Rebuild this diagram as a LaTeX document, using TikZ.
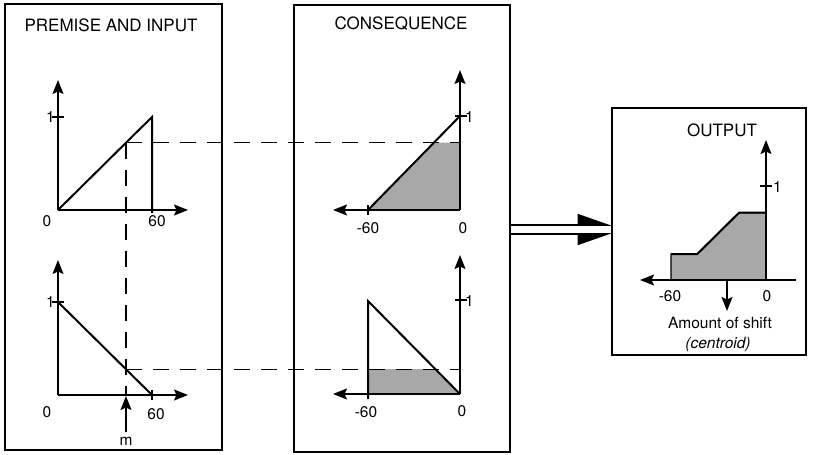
\documentclass[tikz,border=0pt]{standalone}
\usepackage{fontspec}
\setmainfont{TeX Gyre Heros}
\usetikzlibrary{arrows.meta}
\begin{document}
\begin{tikzpicture}[x=1pt,y=-1pt,
  panel/.style={draw,line width=1.5pt,inner sep=0pt,outer sep=0pt},
  axis/.style={line width=1.5pt,-{Stealth[length=14pt,width=11pt,inset=2.5pt]}},
  curve/.style={line width=2pt,line join=miter},
  guide/.style={line width=1.4pt,dash pattern=on 16pt off 11pt},
  shade/.style={fill=black!34},
  lbl/.style={font=\fontsize{15.5}{17}\selectfont,inner sep=0pt},
  ttl/.style={font=\fontsize{17}{19}\selectfont,inner sep=0pt},
  tickmark/.style={line width=1.5pt},
  dbl/.style={line width=1.6pt}]
\useasboundingbox (0,0) rectangle (831,455);

% panels
\node[panel,minimum width=217pt,minimum height=446pt] (prem) at (113.5,227) {};
\node[panel,minimum width=216pt,minimum height=447pt] (cons) at (402,228.5) {};
\node[panel,minimum width=194pt,minimum height=247pt] (out) at (709,231.5) {};

\node[ttl] (t1) at (111,25) {PREMISE AND INPUT};
\node[ttl] (t2) at (401,24) {CONSEQUENCE};
\node[ttl] (t3) at (722,130) {OUTPUT};

% ---------- premise, top ----------
\draw[axis] (58,210) -- (58,80);
\draw[axis] (58,210) -- (188,210);
\draw[curve] (58,210) -- (152,117) -- (152,213);
\draw[tickmark] (52,117) -- (64,117);
\node[lbl,anchor=east] (p1one) at (55,117) {1};
\node[lbl] (p1zero) at (47,221) {0};
\node[lbl] (p1sixty) at (157,221) {60};

% ---------- premise, bottom ----------
\draw[axis] (58,395) -- (58,260);
\draw[axis] (58,395) -- (188,395);
\draw[curve] (58,302) -- (152,395);
\draw[tickmark] (152,390) -- (152,400);
\draw[tickmark] (52,302) -- (64,302);
\node[lbl,anchor=east] (p2one) at (55,302) {1};
\node[lbl] (p2zero) at (47,412) {0};
\node[lbl] (p2sixty) at (156,414) {60};

% input m
\coordinate (m) at (126,396);
\coordinate (mtail) at (126,432);
\draw[axis] (mtail) -- (m);
\node[lbl,anchor=base] (mlab) at (126,445) {m};

% ---------- consequence, top ----------
\fill[shade] (368,210) -- (433.9,142.7) -- (460,142.7) -- (460,210) -- cycle;
\draw[axis] (460,210) -- (333,210);
\draw[axis] (460,210) -- (460,70);
\draw[curve] (368,210) -- (460,116);
\draw[tickmark] (455,116) -- (467,116);
\draw[tickmark] (368,205) -- (368,215);
\node[lbl,anchor=west] (c1one) at (465,117) {1};
\node[lbl] (c1m60) at (368,228) {-60};
\node[lbl] (c1zero) at (463,228) {0};

% ---------- consequence, bottom ----------
\fill[shade] (368,394) -- (368,369.2) -- (436.5,369.2) -- (460,394) -- cycle;
\draw[axis] (460,394) -- (333,394);
\draw[axis] (460,394) -- (460,255);
\draw[curve] (368,399) -- (368,301) -- (460,394);
\draw[tickmark] (455,300) -- (467,300);
\node[lbl,anchor=west] (c2one) at (465,301) {1};
\node[lbl] (c2m60) at (366,412) {-60};
\node[lbl] (c2zero) at (462,411) {0};

% ---------- dashed guides ----------
\coordinate (p1) at (126,142.7);
\coordinate (p2) at (126,369.2);
\coordinate (q1) at (460,142.7);
\coordinate (q2) at (460,369.2);
\draw[guide] (p1) -- (q1);
\draw[guide] (p2) -- (q2);
\draw[guide] (p1) -- (126,395);

% ---------- double arrow ----------
\coordinate (ya) at (0,225);
\coordinate (yb) at (0,234);
\draw[dbl,-{Triangle[harpoon,length=32pt,width=22pt]}] (cons.east |- ya) -- (out.west |- ya);
\draw[dbl,-{Triangle[harpoon,swap,length=32pt,width=22pt]}] (cons.east |- yb) -- (out.west |- yb);

% ---------- output ----------
\filldraw[shade,line width=1.2pt] (671,280) -- (671,254) -- (697.3,254) -- (739,212.7) -- (766,212.7) -- (766,280) -- cycle;
\draw[curve] (671,254) -- (697.3,254) -- (739,212.7) -- (766,212.7);
\draw[axis] (796,280) -- (640,280);
\draw[axis] (766,280) -- (766,140);
\draw[tickmark] (760,186) -- (772,186);
\node[lbl,anchor=west] (oone) at (773,187) {1};
\draw[axis] (727,280) -- (727,311);
\node[lbl] (om60) at (670,296) {-60};
\node[lbl] (ozero) at (767,296) {0};
\node[lbl] (shift) at (720,323) {Amount of shift};
\node[lbl] (centroid) at (718,344) {\itshape (centroid)};
\end{tikzpicture}
\end{document}
